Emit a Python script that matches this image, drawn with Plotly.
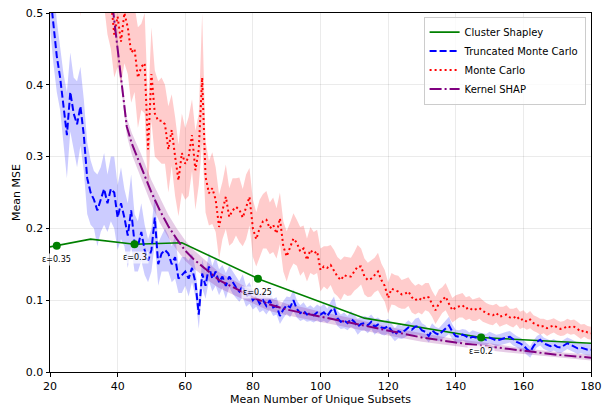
import plotly.graph_objects as go

# ---------------- data ----------------
subset_x = list(range(20, 181))

tmc_mean = [
    0.53, 0.485, 0.44, 0.41, 0.365, 0.33, 0.39, 0.36, 0.345, 0.37,
    0.33, 0.27, 0.25, 0.24, 0.225, 0.24, 0.255, 0.235, 0.255, 0.25,
    0.215, 0.235, 0.215, 0.19, 0.225, 0.18, 0.175, 0.195, 0.17, 0.155,
    0.17, 0.215, 0.15, 0.165, 0.17, 0.165, 0.15, 0.16, 0.13, 0.135,
    0.14, 0.13, 0.145, 0.125, 0.08, 0.137, 0.12, 0.147, 0.13, 0.14,
    0.125, 0.133, 0.12, 0.133, 0.125, 0.118, 0.112, 0.12, 0.105, 0.11,
    0.1, 0.105, 0.095, 0.1, 0.092, 0.1, 0.09, 0.092, 0.078, 0.087,
    0.093, 0.09, 0.1, 0.088, 0.082, 0.085, 0.08, 0.082, 0.079, 0.083,
    0.08, 0.083, 0.078, 0.085, 0.089, 0.075, 0.07, 0.072, 0.068, 0.074,
    0.07, 0.063, 0.067, 0.068, 0.065, 0.07, 0.063, 0.066, 0.062, 0.061,
    0.064, 0.058, 0.052, 0.057, 0.055, 0.058, 0.062, 0.059, 0.063, 0.064,
    0.058, 0.056, 0.05, 0.058, 0.054, 0.052, 0.056, 0.06, 0.065, 0.056,
    0.05, 0.049, 0.052, 0.05, 0.047, 0.049, 0.048, 0.047, 0.046, 0.045,
    0.048, 0.046, 0.044, 0.045, 0.047, 0.048, 0.049, 0.045, 0.042, 0.04,
    0.037, 0.032, 0.028, 0.036, 0.042, 0.045, 0.04, 0.038, 0.036, 0.038,
    0.035, 0.034, 0.037, 0.04, 0.038, 0.035, 0.033, 0.034, 0.032, 0.031,
    0.031,
]
tmc_err = [
    0.05, 0.055, 0.05, 0.045, 0.05, 0.06, 0.055, 0.05, 0.06, 0.055,
    0.05, 0.05, 0.045, 0.04, 0.05, 0.045, 0.05, 0.04, 0.045, 0.05,
    0.045, 0.05, 0.04, 0.045, 0.05, 0.04, 0.035, 0.04, 0.035, 0.03,
    0.03, 0.035, 0.03, 0.025, 0.03, 0.025, 0.025, 0.03, 0.02, 0.025,
    0.02, 0.025, 0.02, 0.02, 0.02, 0.02, 0.018, 0.02, 0.018, 0.02,
    0.018, 0.016, 0.018, 0.015, 0.016, 0.015, 0.014, 0.016, 0.014, 0.015,
    0.013, 0.014, 0.012, 0.014, 0.012, 0.013, 0.012, 0.012, 0.011, 0.012,
    0.012, 0.014, 0.015, 0.012, 0.011, 0.012, 0.01, 0.011, 0.01, 0.011,
    0.011, 0.012, 0.01, 0.013, 0.016, 0.011, 0.01, 0.011, 0.01, 0.011,
    0.01, 0.011, 0.01, 0.01, 0.011, 0.01, 0.011, 0.01, 0.01, 0.01,
    0.01, 0.01, 0.009, 0.01, 0.009, 0.01, 0.01, 0.009, 0.011, 0.012,
    0.01, 0.009, 0.009, 0.01, 0.009, 0.009, 0.01, 0.011, 0.012, 0.01,
    0.009, 0.009, 0.008, 0.009, 0.008, 0.009, 0.008, 0.008, 0.008, 0.008,
    0.008, 0.008, 0.008, 0.008, 0.008, 0.008, 0.008, 0.008, 0.008, 0.008,
    0.008, 0.008, 0.008, 0.008, 0.008, 0.008, 0.008, 0.008, 0.008, 0.008,
    0.008, 0.008, 0.008, 0.008, 0.008, 0.008, 0.008, 0.008, 0.008, 0.008,
    0.008,
]

mc_mean = [
    0.62, 0.66, 0.68, 0.67, 0.66, 0.68, 0.66, 0.67, 0.66, 0.6,
    0.66, 0.65, 0.67, 0.6, 0.62, 0.58, 0.6, 0.56, 0.52, 0.47,
    0.495, 0.46, 0.5, 0.48, 0.445, 0.45, 0.41, 0.425, 0.43, 0.31,
    0.415, 0.36, 0.35, 0.35, 0.345, 0.31, 0.337, 0.3, 0.267, 0.305,
    0.29, 0.3, 0.33, 0.281, 0.31, 0.41, 0.272, 0.249, 0.256, 0.24,
    0.202, 0.225, 0.244, 0.216, 0.225, 0.23, 0.226, 0.215, 0.23, 0.244,
    0.2, 0.185, 0.2, 0.21, 0.212, 0.2, 0.205, 0.193, 0.214, 0.175,
    0.161, 0.175, 0.186, 0.18, 0.168, 0.172, 0.156, 0.17, 0.165, 0.168,
    0.142, 0.147, 0.145, 0.149, 0.14, 0.133, 0.128, 0.135, 0.133, 0.133,
    0.14, 0.147, 0.147, 0.133, 0.128, 0.13, 0.135, 0.14, 0.128, 0.12,
    0.103, 0.116, 0.114, 0.112, 0.108, 0.109, 0.112, 0.104, 0.1, 0.103,
    0.1, 0.105, 0.104, 0.095, 0.086, 0.095, 0.1, 0.105, 0.095, 0.086,
    0.09, 0.092, 0.093, 0.088, 0.09, 0.086, 0.087, 0.089, 0.085, 0.082,
    0.08, 0.079, 0.082, 0.077, 0.078, 0.08, 0.076, 0.075, 0.078, 0.072,
    0.074, 0.07, 0.073, 0.068, 0.066, 0.063, 0.064, 0.061, 0.063, 0.065,
    0.062, 0.06, 0.061, 0.064, 0.062, 0.063, 0.06, 0.056, 0.058, 0.055,
    0.054,
]
mc_err = [
    0.125, 0.1, 0.12, 0.11, 0.1, 0.12, 0.1, 0.11, 0.09, 0.105,
    0.1, 0.09, 0.1, 0.09, 0.1, 0.08, 0.09, 0.09, 0.07, 0.06,
    0.07, 0.06, 0.07, 0.065, 0.07, 0.06, 0.07, 0.06, 0.07, 0.06,
    0.065, 0.06, 0.055, 0.06, 0.055, 0.06, 0.05, 0.055, 0.05, 0.055,
    0.05, 0.055, 0.05, 0.055, 0.05, 0.09, 0.05, 0.045, 0.05, 0.045,
    0.045, 0.04, 0.045, 0.04, 0.045, 0.04, 0.045, 0.04, 0.045, 0.04,
    0.04, 0.038, 0.04, 0.038, 0.04, 0.036, 0.038, 0.035, 0.036, 0.035,
    0.035, 0.033, 0.035, 0.032, 0.034, 0.032, 0.03, 0.032, 0.03, 0.03,
    0.03, 0.028, 0.03, 0.028, 0.03, 0.027, 0.028, 0.026, 0.027, 0.026,
    0.027, 0.03, 0.025, 0.025, 0.024, 0.025, 0.024, 0.026, 0.023, 0.022,
    0.022, 0.022, 0.021, 0.022, 0.02, 0.021, 0.02, 0.021, 0.02, 0.02,
    0.02, 0.019, 0.02, 0.018, 0.019, 0.02, 0.018, 0.019, 0.018, 0.017,
    0.017, 0.016, 0.017, 0.016, 0.016, 0.015, 0.016, 0.015, 0.015, 0.014,
    0.014, 0.014, 0.013, 0.014, 0.013, 0.013, 0.012, 0.013, 0.012, 0.012,
    0.012, 0.011, 0.012, 0.011, 0.011, 0.011, 0.01, 0.011, 0.01, 0.01,
    0.01, 0.01, 0.01, 0.01, 0.01, 0.01, 0.01, 0.01, 0.009, 0.009,
    0.009,
]

ks_x = [38.5, 42.7, 44.2, 47, 50, 52.5, 55, 57.5, 60, 62.5, 65, 67.5, 70, 75,
        80, 85, 90, 95, 100, 110, 120, 130, 140, 150, 160, 170, 180]
ks_mean = [0.51, 0.342, 0.318, 0.286, 0.25, 0.225, 0.203, 0.185, 0.169, 0.157,
           0.147, 0.137, 0.128, 0.116, 0.104, 0.094, 0.087, 0.082, 0.077,
           0.067, 0.057, 0.048, 0.041, 0.035, 0.029, 0.024, 0.02]
ks_err = [0.008, 0.012, 0.015, 0.017, 0.017, 0.017, 0.016, 0.015, 0.014, 0.013,
          0.012, 0.012, 0.011, 0.01, 0.009, 0.009, 0.008, 0.008, 0.007, 0.007,
          0.006, 0.006, 0.005, 0.005, 0.004, 0.004, 0.004]

cs_x = [14, 22, 32, 45, 59, 81.5, 113, 147.5, 180]
cs_mean = [0.169, 0.176, 0.185, 0.178, 0.18, 0.13, 0.075, 0.048, 0.04]

eps_x = [22, 45, 81.5, 147.5]
eps_y = [0.176, 0.178, 0.13, 0.048]
eps_labels = ["ε=0.35", "ε=0.3", "ε=0.25", "ε=0.2"]

x_ticks = [20, 40, 60, 80, 100, 120, 140, 160, 180]
y_ticks = [0.0, 0.1, 0.2, 0.3, 0.4, 0.5]

FONT = "DejaVu Sans"


def band(xs, mean, err, color):
    upper = [m + e for m, e in zip(mean, err)]
    lower = [m - e for m, e in zip(mean, err)]
    return go.Scatter(
        x=list(xs) + list(xs)[::-1],
        y=upper + lower[::-1],
        fill="toself",
        fillcolor=color,
        line=dict(width=0),
        mode="lines",
        hoverinfo="skip",
        showlegend=False,
    )


fig = go.Figure()
fig.add_trace(band(subset_x, tmc_mean, tmc_err, "rgba(0,0,255,0.2)"))
fig.add_trace(band(subset_x, mc_mean, mc_err, "rgba(255,0,0,0.2)"))
fig.add_trace(band(ks_x, ks_mean, ks_err, "rgba(128,0,128,0.2)"))

fig.add_trace(go.Scatter(x=cs_x, y=cs_mean, mode="lines", name="Cluster Shapley",
                         line=dict(color="green", width=1.6)))
fig.add_trace(go.Scatter(x=subset_x, y=tmc_mean, mode="lines", name="Truncated Monte Carlo",
                         line=dict(color="blue", width=2, dash="7px,3px")))
fig.add_trace(go.Scatter(x=subset_x, y=mc_mean, mode="lines", name="Monte Carlo",
                         line=dict(color="red", width=2, dash="2px,3px")))
fig.add_trace(go.Scatter(x=ks_x, y=ks_mean, mode="lines", name="Kernel SHAP",
                         line=dict(color="purple", width=2, dash="12px,3px,2px,3px")))
fig.add_trace(go.Scatter(x=eps_x, y=eps_y, mode="markers", showlegend=False,
                         marker=dict(color="green", size=8), hoverinfo="skip"))

for ex, ey, lab in zip(eps_x, eps_y, eps_labels):
    fig.add_annotation(x=ex, y=ey - 0.019, text=lab, showarrow=False,
                       font=dict(family=FONT, size=8, color="black"),
                       bgcolor="rgba(255,255,255,0.7)", borderpad=1,
                       xanchor="center", yanchor="middle")

# axis titles
fig.add_annotation(x=0.5, y=0, xref="paper", yref="paper", yshift=-19,
                   text="Mean Number of Unique Subsets", showarrow=False,
                   font=dict(family=FONT, size=11, color="black"),
                   xanchor="center", yanchor="top")
fig.add_annotation(x=0, y=0.5, xref="paper", yref="paper", xshift=-25,
                   text="Mean MSE", showarrow=False, textangle=-90,
                   font=dict(family=FONT, size=11, color="black"),
                   xanchor="right", yanchor="middle")

axis_common = dict(
    showline=True, linecolor="black", linewidth=1, mirror=True,
    ticks="outside", ticklen=3.5, tickcolor="black", tickwidth=1,
    showgrid=True, gridcolor="rgba(0,0,0,0.08)", gridwidth=1,
    zeroline=False, automargin=False,
    tickfont=dict(family=FONT, size=11, color="black"),
)

fig.update_xaxes(range=[20, 180], tickvals=x_ticks, **axis_common)
fig.update_yaxes(range=[0, 0.5], tickvals=y_ticks, tickformat=".1f", **axis_common)

fig.update_layout(
    width=604, height=405, autosize=False,
    margin=dict(l=50, r=13, t=13, b=33, pad=0),
    plot_bgcolor="white", paper_bgcolor="white",
    font=dict(family=FONT, size=11, color="black"),
    legend=dict(x=0.99, y=0.99, xanchor="right", yanchor="top",
                bgcolor="rgba(255,255,255,0.8)", bordercolor="#cccccc", borderwidth=1,
                font=dict(family=FONT, size=10), itemwidth=30, tracegroupgap=0),
    showlegend=True,
)

fig.write_html(
    "out.html",
    config={"displayModeBar": False},
    post_script="document.body.style.margin='0';document.body.style.overflow='hidden';",
)
